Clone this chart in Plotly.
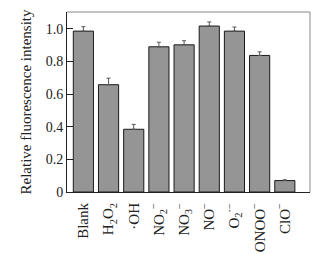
import plotly.graph_objects as go

categories = ["Blank", "H<sub>2</sub>O<sub>2</sub>", "·OH", "NO<sub>2</sub><sup>−</sup>",
              "NO<sub>3</sub><sup>−</sup>", "NO<sup>−</sup>", "O<sub>2</sub><sup>·−</sup>",
              "ONOO<sup>−</sup>", "ClO<sup>−</sup>"]
values = [0.985, 0.657, 0.384, 0.889, 0.901, 1.016, 0.985, 0.836, 0.070]
errors = [0.027, 0.040, 0.030, 0.028, 0.025, 0.025, 0.025, 0.022, 0.005]
y_ticks = [0, 0.2, 0.4, 0.6, 0.8, 1.0]
y_tick_text = ["0", "0.2", "0.4", "0.6", "0.8", "1.0"]

x = list(range(len(categories)))

fig = go.Figure()
fig.add_trace(go.Bar(
    x=x, y=values, width=0.8,
    marker=dict(color="#959595", line=dict(color="#1a1a1a", width=1)),
    error_y=dict(type="data", array=errors, symmetric=False,
                 arrayminus=[0] * len(errors), color="#555555",
                 thickness=1, width=2),
))

font = "Liberation Serif, Times New Roman, serif"
fig.update_layout(
    width=331, height=255,
    margin=dict(l=67, r=21, t=12, b=63),
    paper_bgcolor="white", plot_bgcolor="white",
    showlegend=False,
    font=dict(family=font, size=14, color="#222222"),
    xaxis=dict(
        range=[-0.65, 9.0], tickmode="array", tickvals=x, ticktext=categories,
        tickangle=-90, showgrid=False, zeroline=False, showline=True,
        linecolor="#222222", linewidth=1, ticks="", automargin=False,
        ticklabelstandoff=4,
        tickfont=dict(family=font, size=15),
    ),
    yaxis=dict(
        range=[0, 1.102], tickmode="array", tickvals=y_ticks, ticktext=y_tick_text,
        showgrid=False, zeroline=False, showline=True, linecolor="#222222",
        linewidth=1, ticks="inside", ticklen=6, tickcolor="#222222",
        automargin=False,
        title=dict(text="Relative fluorescence intensity", font=dict(family=font, size=15),
                   standoff=10),
        tickfont=dict(family=font, size=14),
    ),
    shapes=[
        dict(type="line", xref="paper", yref="paper", x0=0, x1=1, y0=1, y1=1,
             line=dict(color="#8a8a8a", width=1)),
        dict(type="line", xref="paper", yref="paper", x0=1, x1=1, y0=0, y1=1,
             line=dict(color="#8a8a8a", width=1)),
    ],
)

fig.write_html("out.html")
